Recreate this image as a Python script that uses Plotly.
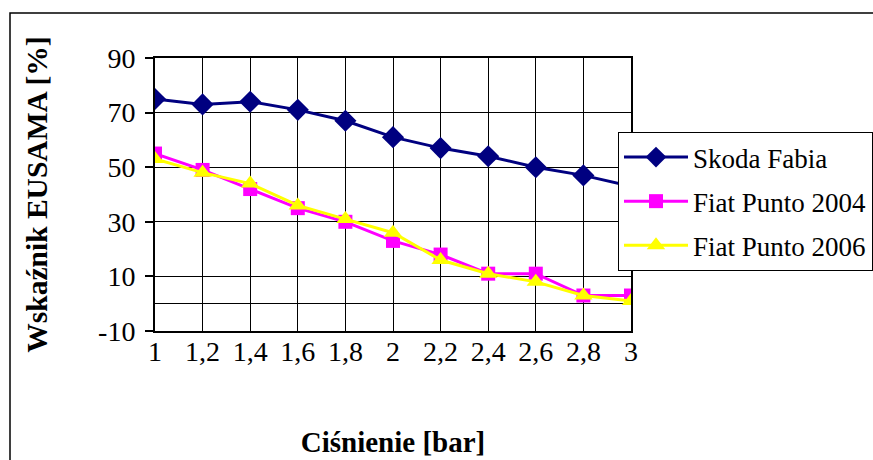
import plotly.graph_objects as go

categories = ["1", "1,2", "1,4", "1,6", "1,8", "2", "2,2", "2,4", "2,6", "2,8", "3"]
skoda_fabia = [75, 73, 74, 71, 67, 61, 57, 54, 50, 47, 43]
fiat_punto_2004 = [55, 49, 42, 35, 30, 23, 18, 11, 11, 3, 3]
fiat_punto_2006 = [53, 48, 44, 36, 31, 26, 16, 11, 8, 3, 1]
y_ticks = [-10, 10, 30, 50, 70, 90]
y_tick_labels = ["-10", "10", "30", "50", "70", "90"]

FONT = "Liberation Serif"
W, H = 873, 460
L, R, T, B = 155, 242, 58, 129

fig = go.Figure()
fig.add_trace(go.Scatter(
    x=categories, y=skoda_fabia, name="Skoda Fabia", legendgroup="a",
    mode="lines+markers", line=dict(color="#000080", width=3),
    marker=dict(symbol="diamond", size=17, color="#000080")))
fig.add_trace(go.Scatter(
    x=categories, y=fiat_punto_2004, name="Fiat Punto 2004", legendgroup="b",
    mode="lines+markers", line=dict(color="#FF00FF", width=3),
    marker=dict(symbol="square", size=14, color="#FF00FF")))
fig.add_trace(go.Scatter(
    x=categories, y=fiat_punto_2006, name="Fiat Punto 2006", legendgroup="c",
    mode="lines+markers", line=dict(color="#FFFF00", width=3),
    marker=dict(symbol="triangle-up", size=16, color="#FFFF00")))

fig.update_layout(
    width=W, height=H,
    margin=dict(l=L, r=R, t=T, b=B, autoexpand=False),
    paper_bgcolor="white", plot_bgcolor="white",
    font=dict(family=FONT, size=28, color="black"),
    showlegend=True,
    legend=dict(
        xref="container", yref="container",
        x=618 / W, y=1 - 132 / H, xanchor="left", yanchor="top",
        bgcolor="white", bordercolor="black", borderwidth=1,
        font=dict(family=FONT, size=27, color="black"),
        tracegroupgap=6, itemwidth=64,
    ),
    xaxis=dict(
        type="category", range=[0, len(categories) - 1],
        showgrid=True, gridcolor="black", gridwidth=1,
        showline=True, linecolor="black", linewidth=2, mirror=True,
        ticks="", ticklabelstandoff=-6, tickfont=dict(family=FONT, size=28),
        title=dict(text="<b>Ciśnienie [bar]</b>", font=dict(family=FONT, size=29), standoff=66),
        automargin=False,
    ),
    yaxis=dict(
        range=[-10, 90], tickvals=y_ticks, ticktext=y_tick_labels,
        showgrid=True, gridcolor="black", gridwidth=1,
        zeroline=True, zerolinecolor="black", zerolinewidth=1,
        showline=True, linecolor="black", linewidth=2, mirror=True,
        ticks="outside", ticklen=8, tickwidth=1.5, tickcolor="black",
        ticklabelstandoff=4,
        tickfont=dict(family=FONT, size=28),
        title=dict(text="<b>Wskaźnik EUSAMA [%]</b>", font=dict(family=FONT, size=29.5), standoff=42),
        automargin=False,
    ),
    shapes=[dict(
        type="rect", xref="paper", yref="paper",
        x0=(10 - L) / (W - L - R), x1=1.8,
        y0=-1.0, y1=(H - B - 13) / (H - T - B),
        line=dict(color="black", width=1.5), layer="below",
    )],
)

fig.write_html("out.html")
